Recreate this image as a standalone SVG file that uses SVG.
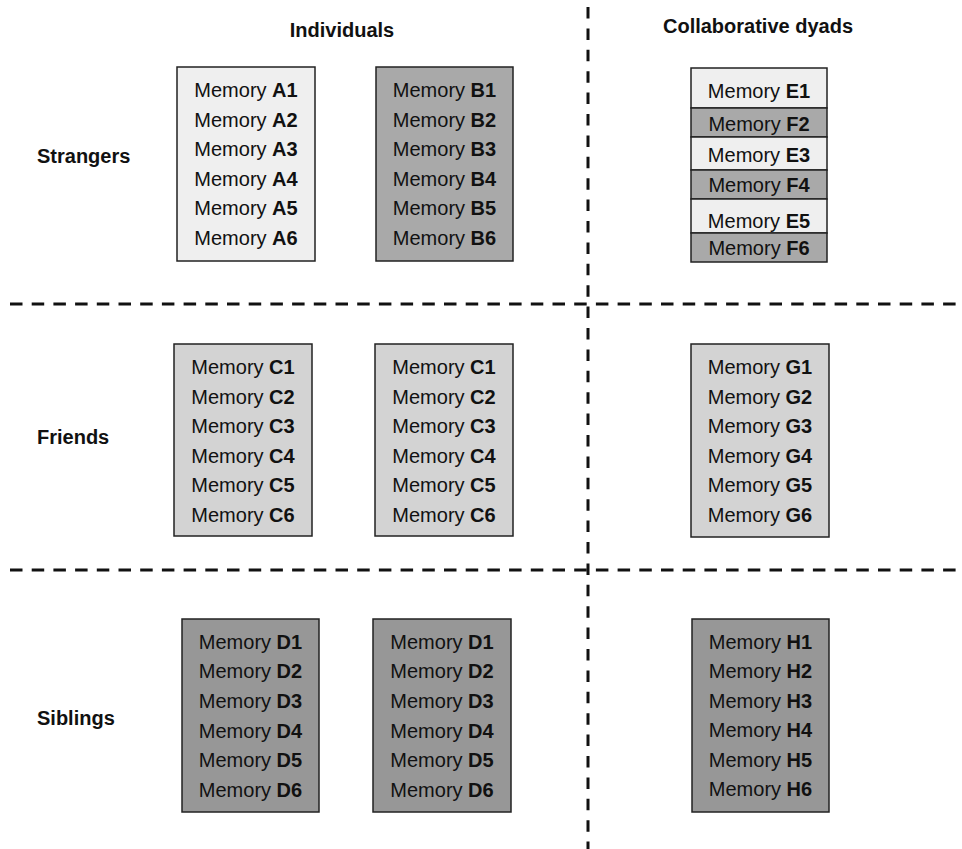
<svg xmlns="http://www.w3.org/2000/svg" width="962" height="849" viewBox="0 0 962 849">
<style>
text{font-family:"Liberation Sans",Arial,Helvetica,sans-serif;fill:#111}
.m{font-size:20px;text-anchor:middle}
.b{font-weight:bold}
.h{font-size:20px;font-weight:bold}
.box{stroke:#222;stroke-width:1.5}
.l1{fill:#efefef}.l2{fill:#a9a9a9}.l3{fill:#d3d3d3}.l4{fill:#979797}
.dash{stroke:#111;stroke-width:3;fill:none}
</style>
<rect width="962" height="849" fill="#fff"/>
<g id="dividers">
<line class="dash" x1="10" y1="304" x2="962" y2="304" stroke-dasharray="12.5 9.2"/>
<line class="dash" x1="10" y1="570" x2="962" y2="570" stroke-dasharray="12.5 9.2"/>
<line class="dash" x1="588" y1="7" x2="588" y2="849" stroke-dasharray="11.5 9.9"/>
</g>
<g id="headers">
<text class="h" x="342" y="37" text-anchor="middle">Individuals</text>
<text class="h" x="758" y="33" text-anchor="middle">Collaborative dyads</text>
<text class="h" x="37" y="163">Strangers</text>
<text class="h" x="37" y="444">Friends</text>
<text class="h" x="37" y="725">Siblings</text>
</g>
<g id="boxA">
<rect class="box l1" x="177" y="67" width="138" height="194"/>
<text class="m" x="246" y="97">Memory <tspan class="b">A1</tspan></text>
<text class="m" x="246" y="126.6">Memory <tspan class="b">A2</tspan></text>
<text class="m" x="246" y="156.2">Memory <tspan class="b">A3</tspan></text>
<text class="m" x="246" y="185.8">Memory <tspan class="b">A4</tspan></text>
<text class="m" x="246" y="215.4">Memory <tspan class="b">A5</tspan></text>
<text class="m" x="246" y="245">Memory <tspan class="b">A6</tspan></text>
</g>
<g id="boxB">
<rect class="box l2" x="376" y="67" width="137" height="194"/>
<text class="m" x="444.5" y="97">Memory <tspan class="b">B1</tspan></text>
<text class="m" x="444.5" y="126.6">Memory <tspan class="b">B2</tspan></text>
<text class="m" x="444.5" y="156.2">Memory <tspan class="b">B3</tspan></text>
<text class="m" x="444.5" y="185.8">Memory <tspan class="b">B4</tspan></text>
<text class="m" x="444.5" y="215.4">Memory <tspan class="b">B5</tspan></text>
<text class="m" x="444.5" y="245">Memory <tspan class="b">B6</tspan></text>
</g>
<g id="boxEF">
<rect class="box l1" x="691" y="68" width="136" height="40"/>
<rect class="box l2" x="691" y="108" width="136" height="29"/>
<rect class="box l1" x="691" y="137" width="136" height="33"/>
<rect class="box l2" x="691" y="170" width="136" height="29"/>
<rect class="box l1" x="691" y="199" width="136" height="34"/>
<rect class="box l2" x="691" y="233" width="136" height="29"/>
<text class="m" x="759" y="97.5">Memory <tspan class="b">E1</tspan></text>
<text class="m" x="759" y="131">Memory <tspan class="b">F2</tspan></text>
<text class="m" x="759" y="162">Memory <tspan class="b">E3</tspan></text>
<text class="m" x="759" y="192">Memory <tspan class="b">F4</tspan></text>
<text class="m" x="759" y="228">Memory <tspan class="b">E5</tspan></text>
<text class="m" x="759" y="255">Memory <tspan class="b">F6</tspan></text>
</g>
<g id="boxC1">
<rect class="box l3" x="174" y="344" width="138" height="192"/>
<text class="m" x="243" y="374">Memory <tspan class="b">C1</tspan></text>
<text class="m" x="243" y="403.6">Memory <tspan class="b">C2</tspan></text>
<text class="m" x="243" y="433.2">Memory <tspan class="b">C3</tspan></text>
<text class="m" x="243" y="462.8">Memory <tspan class="b">C4</tspan></text>
<text class="m" x="243" y="492.4">Memory <tspan class="b">C5</tspan></text>
<text class="m" x="243" y="522">Memory <tspan class="b">C6</tspan></text>
</g>
<g id="boxC2">
<rect class="box l3" x="375" y="344" width="138" height="192"/>
<text class="m" x="444" y="374">Memory <tspan class="b">C1</tspan></text>
<text class="m" x="444" y="403.6">Memory <tspan class="b">C2</tspan></text>
<text class="m" x="444" y="433.2">Memory <tspan class="b">C3</tspan></text>
<text class="m" x="444" y="462.8">Memory <tspan class="b">C4</tspan></text>
<text class="m" x="444" y="492.4">Memory <tspan class="b">C5</tspan></text>
<text class="m" x="444" y="522">Memory <tspan class="b">C6</tspan></text>
</g>
<g id="boxG">
<rect class="box l3" x="691" y="344" width="138" height="193"/>
<text class="m" x="760" y="374">Memory <tspan class="b">G1</tspan></text>
<text class="m" x="760" y="403.6">Memory <tspan class="b">G2</tspan></text>
<text class="m" x="760" y="433.2">Memory <tspan class="b">G3</tspan></text>
<text class="m" x="760" y="462.8">Memory <tspan class="b">G4</tspan></text>
<text class="m" x="760" y="492.4">Memory <tspan class="b">G5</tspan></text>
<text class="m" x="760" y="522">Memory <tspan class="b">G6</tspan></text>
</g>
<g id="boxD1">
<rect class="box l4" x="182" y="619" width="137" height="193"/>
<text class="m" x="250.5" y="648.5">Memory <tspan class="b">D1</tspan></text>
<text class="m" x="250.5" y="678.2">Memory <tspan class="b">D2</tspan></text>
<text class="m" x="250.5" y="707.9">Memory <tspan class="b">D3</tspan></text>
<text class="m" x="250.5" y="737.6">Memory <tspan class="b">D4</tspan></text>
<text class="m" x="250.5" y="767.3">Memory <tspan class="b">D5</tspan></text>
<text class="m" x="250.5" y="797">Memory <tspan class="b">D6</tspan></text>
</g>
<g id="boxD2">
<rect class="box l4" x="373" y="619" width="138" height="193"/>
<text class="m" x="442" y="648.5">Memory <tspan class="b">D1</tspan></text>
<text class="m" x="442" y="678.2">Memory <tspan class="b">D2</tspan></text>
<text class="m" x="442" y="707.9">Memory <tspan class="b">D3</tspan></text>
<text class="m" x="442" y="737.6">Memory <tspan class="b">D4</tspan></text>
<text class="m" x="442" y="767.3">Memory <tspan class="b">D5</tspan></text>
<text class="m" x="442" y="797">Memory <tspan class="b">D6</tspan></text>
</g>
<g id="boxH">
<rect class="box l4" x="692" y="619" width="137" height="193"/>
<text class="m" x="760.5" y="649">Memory <tspan class="b">H1</tspan></text>
<text class="m" x="760.5" y="678.4">Memory <tspan class="b">H2</tspan></text>
<text class="m" x="760.5" y="707.8">Memory <tspan class="b">H3</tspan></text>
<text class="m" x="760.5" y="737.2">Memory <tspan class="b">H4</tspan></text>
<text class="m" x="760.5" y="766.6">Memory <tspan class="b">H5</tspan></text>
<text class="m" x="760.5" y="796">Memory <tspan class="b">H6</tspan></text>
</g>
</svg>
